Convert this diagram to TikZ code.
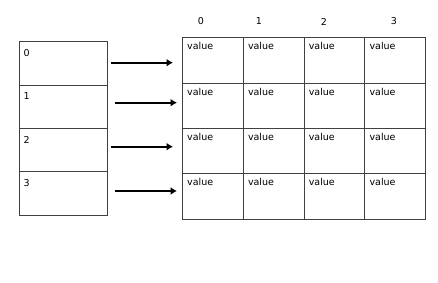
\documentclass[tikz,border=0pt]{standalone}
\usepackage{fontspec}
\setmainfont{DejaVu Sans}
\usepackage{tikz}
\usetikzlibrary{arrows.meta}

\tikzset{
    cell/.style={draw=black!75, line width=0.9pt, rectangle, inner sep=0pt, anchor=north west},
    txt/.style={inner sep=0pt, anchor=north west, font=\fontsize{9.5}{11}\selectfont},
    ptr/.style={-{Latex[length=6.5pt,width=8pt]}, line width=2pt}
}

\begin{document}
\begin{tikzpicture}[x=1pt, y=-1pt]
    \useasboundingbox (0,0) rectangle (438,283);

    % Draw index column
    \foreach \i/\y in {0/41.3, 1/84.6, 2/127.9, 3/171.2} {
        \node[cell, minimum width=88pt, minimum height=43.3pt] (idx\i) at (19,\y) {};
        \node[txt] (idxlab\i) at ([xshift=4.5pt, yshift=-8pt]idx\i.north west) {\i};
    }

    % Column numbers
    \foreach \c/\x in {0/201, 1/259, 2/324, 3/394} {
        \node[txt, anchor=center] (col\c) at (\x,21.5) {\c};
    }

    % Draw value table
    \foreach \r/\y in {0/37.3, 1/82.6, 2/127.9, 3/173.2} {
        \foreach \c/\x in {0/182, 1/242.8, 2/303.6, 3/364.4} {
            \node[cell, minimum width=60.8pt, minimum height=45.3pt] (val\r\c) at (\x,\y) {};
            \node[txt] (vallab\r\c) at ([xshift=5pt, yshift=-5pt]val\r\c.north west) {value};
        }
    }

    % Pointers from index to rows
    \coordinate (p0s) at (110.7,62.7);  \coordinate (p0e) at (173,62.7);
    \coordinate (p1s) at (115,102.7);   \coordinate (p1e) at (177,102.7);
    \coordinate (p2s) at (110.7,146.7); \coordinate (p2e) at (173,146.7);
    \coordinate (p3s) at (115,191);     \coordinate (p3e) at (177,191);
    \draw[ptr] (p0s) -- (p0e);
    \draw[ptr] (p1s) -- (p1e);
    \draw[ptr] (p2s) -- (p2e);
    \draw[ptr] (p3s) -- (p3e);
\end{tikzpicture}
\end{document}
